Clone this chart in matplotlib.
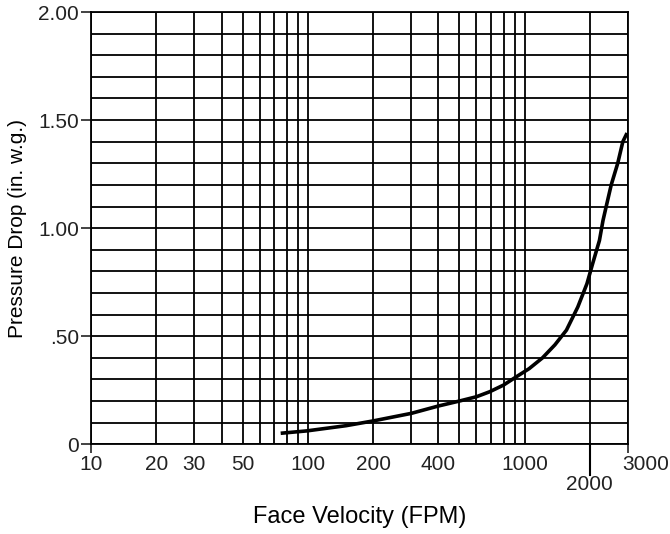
import matplotlib.pyplot as plt
import matplotlib as mpl
from matplotlib.ticker import FixedLocator, LogLocator, MultipleLocator, FuncFormatter, NullFormatter
from matplotlib.transforms import ScaledTranslation

mpl.rcParams.update({
    'font.family': ['Liberation Sans', 'DejaVu Sans'],
    'text.color': '#222222',
    'xtick.color': '#222222',
    'ytick.color': '#222222',
})

# Curve (face velocity in FPM, pressure drop in in. w.g.)
velocity = [75, 99, 150, 200, 300, 400, 500, 600, 690, 800, 915, 1050,
            1210, 1380, 1560, 1760, 1940, 2060, 2215, 2300, 2380, 2510, 2690, 2840, 2970]
pressure = [0.051, 0.062, 0.086, 0.108, 0.143, 0.177, 0.20, 0.22, 0.243, 0.274, 0.312, 0.35,
            0.40, 0.46, 0.528, 0.635, 0.743, 0.835, 0.943, 1.035, 1.10, 1.20, 1.30, 1.40, 1.44]

x_ticks = [10, 20, 30, 50, 100, 200, 400, 1000, 3000]
y_ticks = [0, 0.5, 1.0, 1.5, 2.0]
y_tick_labels = ['0', '.50', '1.00', '1.50', '2.00']

fig = plt.figure(figsize=(6.7, 5.34), dpi=100)
ax = fig.add_axes([0.1358, 0.168, 0.8015, 0.8095])

ax.plot(velocity, pressure, color='black', linewidth=2.6, solid_capstyle='butt',
        solid_joinstyle='round', zorder=5)

ax.set_xscale('log')
ax.set_xlim(10, 3000)
ax.set_ylim(0, 2.0)

# x axis: labelled majors, plain log minors (only 2000 gets a label, set lower)
ax.xaxis.set_major_locator(FixedLocator(x_ticks))
ax.xaxis.set_major_formatter(FuncFormatter(lambda v, p: f'{v:g}'))
ax.xaxis.set_minor_locator(LogLocator(base=10, subs=range(2, 10)))
ax.xaxis.set_minor_formatter(FuncFormatter(lambda v, p: '2000' if abs(v - 2000) < 1 else ''))
ax.tick_params(axis='x', which='major', length=6.5, width=1.2, pad=1.5, labelsize=15)
ax.tick_params(axis='x', which='minor', length=0, pad=22, labelsize=15)
ax.axvline(2000, ymin=-0.072, ymax=0, color='black', linewidth=1.5, clip_on=False, zorder=6)

# y axis
ax.yaxis.set_major_locator(FixedLocator(y_ticks))
ax.set_yticklabels(y_tick_labels)
ax.yaxis.set_minor_locator(MultipleLocator(0.1))
ax.yaxis.set_minor_formatter(NullFormatter())
ax.tick_params(axis='y', which='major', length=7, width=1.2, pad=1.5, labelsize=15)
ax.tick_params(axis='y', which='minor', length=0)

ax.grid(True, which='both', color='black', linewidth=1.3)
for s in ax.spines.values():
    s.set_linewidth(1.3)

ax.set_xlabel('Face Velocity (FPM)', fontsize=17, labelpad=9)
ax.set_ylabel('Pressure Drop (in. w.g.)', fontsize=15, labelpad=8)

# only the end ticks of the x axis show a mark; the last label hangs to the right
fig.canvas.draw()
for t in ax.xaxis.get_major_ticks():
    if t.get_loc() not in (10, 3000):
        t.tick1line.set_visible(False)
    if t.get_loc() == 3000:
        t.label1.set_horizontalalignment('left')
        t.label1.set_transform(t.label1.get_transform()
                               + ScaledTranslation(-6 / 100, 0, fig.dpi_scale_trans))

plt.savefig('out.png', dpi=100)
